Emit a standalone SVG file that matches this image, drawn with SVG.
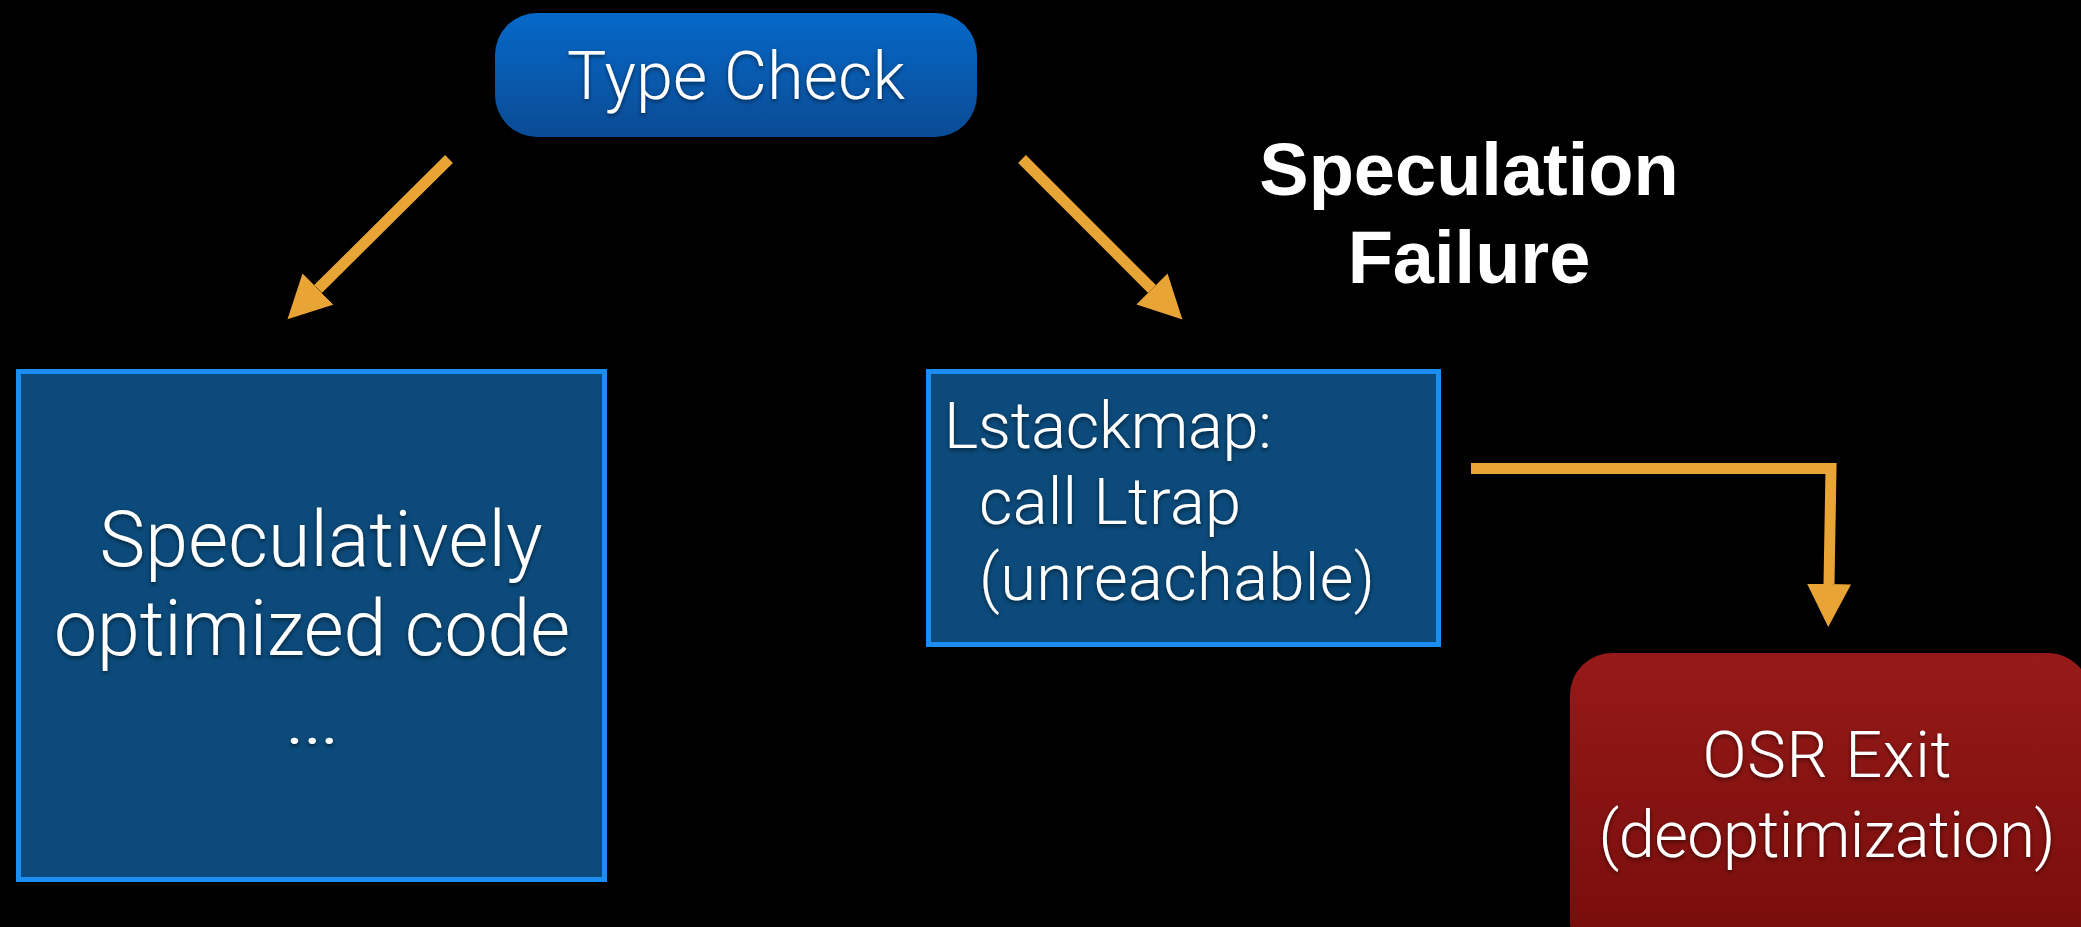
<svg xmlns="http://www.w3.org/2000/svg" width="2081" height="927" viewBox="0 0 2081 927">
  <defs>
    <linearGradient id="gBlue" x1="0" y1="0" x2="0" y2="1">
      <stop offset="0" stop-color="#0569c9"/>
      <stop offset="1" stop-color="#0b4b94"/>
    </linearGradient>
    <linearGradient id="gRed" x1="0" y1="0" x2="0" y2="1">
      <stop offset="0" stop-color="#961a19"/>
      <stop offset="1" stop-color="#760c09"/>
    </linearGradient>
    <filter id="ts" x="-10%" y="-30%" width="120%" height="160%">
      <feDropShadow dx="0" dy="2" stdDeviation="2" flood-color="#000" flood-opacity="0.55"/>
    </filter>
    <marker id="ah" markerUnits="userSpaceOnUse" markerWidth="44" markerHeight="44" refX="0" refY="22" orient="auto" viewBox="0 0 44 44">
      <path d="M0,0 L43,22 L0,44 Z" fill="#e8a435"/>
    </marker>
    <style>
      .lbl { font-family: "Helvetica Neue", Roboto, "Liberation Sans", sans-serif; font-weight: 300; fill: #ffffff; }
      .bold { font-family: "Liberation Sans", Arial, sans-serif; font-weight: 700; fill: #ffffff; font-size: 74px; text-anchor: middle; }
      .code { fill: #0b4a7a; stroke: #1b8ef2; stroke-width: 5; }
      .conn { fill: none; stroke: #e8a435; stroke-width: 11; stroke-linecap: butt; stroke-linejoin: miter; marker-end: url(#ah); }
    </style>
  </defs>
  <rect x="0" y="0" width="2081" height="927" fill="#000000"/>

  <g id="typecheck">
    <rect x="495" y="13" width="482" height="124" rx="42" ry="42" fill="url(#gBlue)"/>
    <text class="lbl" x="736" y="99" font-size="66" text-anchor="middle" textLength="338" lengthAdjust="spacing" filter="url(#ts)">Type Check</text>
  </g>

  <g id="speculation-failure">
    <text class="bold" x="1469" y="195">Speculation</text>
    <text class="bold" x="1469" y="283">Failure</text>
  </g>

  <g id="optimized">
    <rect class="code" x="18.5" y="371.5" width="586" height="508"/>
    <g class="lbl" font-size="77" text-anchor="middle" filter="url(#ts)">
      <text x="321" y="566" textLength="443" lengthAdjust="spacing">Speculatively</text>
      <text x="312" y="655" textLength="516" lengthAdjust="spacing">optimized code</text>
      <text x="312" y="744" textLength="57" lengthAdjust="spacingAndGlyphs">…</text>
    </g>
  </g>

  <g id="stackmap">
    <rect class="code" x="928.5" y="371.5" width="510" height="273"/>
    <g class="lbl" font-size="65" filter="url(#ts)">
      <text x="944" y="448" textLength="328" lengthAdjust="spacing">Lstackmap:</text>
      <text x="979" y="524" textLength="262" lengthAdjust="spacing">call Ltrap</text>
      <text x="979" y="600" textLength="396" lengthAdjust="spacing">(unreachable)</text>
    </g>
  </g>

  <g id="osrexit">
    <rect x="1570" y="653" width="520" height="310" rx="42" ry="42" fill="url(#gRed)"/>
    <g class="lbl" font-size="65" text-anchor="middle" filter="url(#ts)">
      <text x="1827" y="777" textLength="249" lengthAdjust="spacing">OSR Exit</text>
      <text x="1827" y="857" textLength="457" lengthAdjust="spacing">(deoptimization)</text>
    </g>
  </g>

  <g id="connectors">
    <path class="conn" d="M449,159 L318,289"/>
    <path class="conn" d="M1022,159 L1152,289"/>
    <path class="conn" d="M1471,468.5 L1831,468.5 L1829,584"/>
  </g>
</svg>
